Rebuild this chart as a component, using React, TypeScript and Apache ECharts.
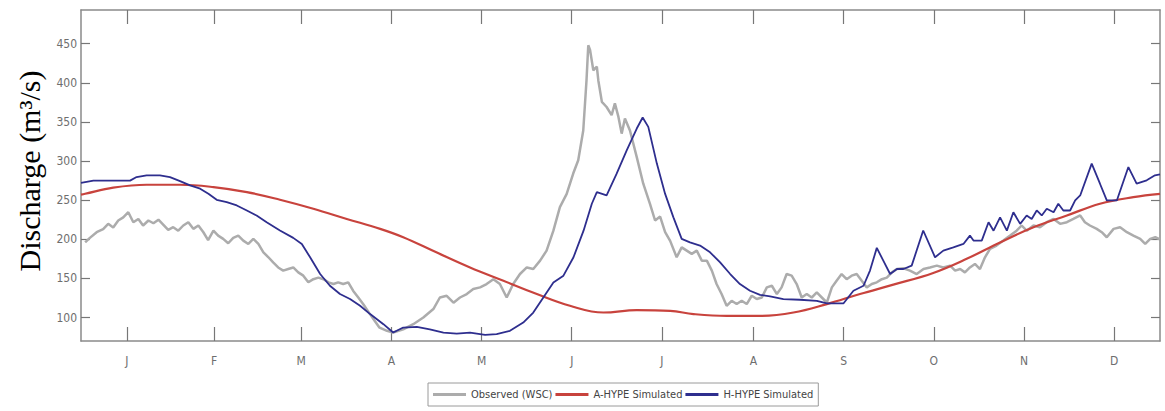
import React, { useEffect, useRef } from "react";
import * as echarts from "echarts";

// ---- Data (day of year, discharge m3/s) ----
const monthMid = [15.5, 45, 74.5, 105, 135.5, 166, 196.5, 227.5, 258, 288.5, 319, 349.5];
const monthLabels = ["J", "F", "M", "A", "M", "J", "J", "A", "S", "O", "N", "D"];
const yTickValues = [100, 150, 200, 250, 300, 350, 400, 450];

const obsDays = [
  1.4, 3, 5.3, 7.5, 9.2, 10.9, 12.6, 14.3, 16, 17.7, 19.4, 21, 22.8, 24.5, 26.2, 27.8, 29.5, 31.2, 32.9, 34.6,
  36.3, 38, 39.7, 41.4, 43, 44.8, 46.4, 48.1, 49.8, 51.5, 53.2, 54.9, 56.6, 58.3, 60, 61.7, 63.4, 65, 66.7, 68.4,
  70.1, 71.8, 73.5, 75.2, 76.9, 78.6, 80.3, 82, 83.7, 85.4, 87, 88.7, 90.4, 92.1, 93.8, 95.5, 97.8, 99.5, 101, 103.5,
  105.6, 109, 112.4, 115.8, 119.2, 121.4, 123.7, 126, 128.2, 130.5, 132.7, 135, 137.2, 139.5, 141.7, 144, 146.2, 148.5, 150.8, 153,
  155.3, 157.5, 159.8, 162, 164.3, 166.5, 168.2, 169.9, 171, 171.6, 172.2, 173.3, 174.5, 175, 176.2, 177.8, 179.5, 180.6, 181.8, 182.9,
  184, 185.7, 188, 190.2, 192.5, 194.2, 195.9, 197.6, 199.3, 201.5, 203.2, 204.9, 206.6, 208.3, 210, 211.7, 213.4, 215, 216.7, 218.4,
  220.1, 221.8, 223.5, 225.2, 226.9, 228.6, 230.3, 232, 233.7, 235.4, 237, 238.7, 240.4, 242.1, 243.8, 245.5, 247.2, 248.9, 250.6, 252.3,
  254, 255.6, 257.3, 259, 260.7, 262.4, 264.1, 265.8, 267.5, 269.2, 270.9, 272.6, 274.3, 276, 278.2, 280.4, 282.7, 285, 287.2, 289.5,
  291.7, 294, 295.7, 297.4, 299, 300.7, 302.4, 304.1, 305.8, 307.5, 309.7, 312, 314.3, 316.5, 318.2, 319.9, 322.2, 324.4, 326.7, 329,
  331.2, 333.5, 335.7, 338, 339.6, 341.3, 343.6, 345.3, 347, 349.3, 351.5, 353.8, 356, 358.3, 360, 361.7, 363.4, 365,
];
const obsValues = [
  196, 201.8, 209, 213, 219.7, 215, 224, 228, 234.6, 221.8, 226, 217.6, 224, 220.5, 225, 218.8, 212, 215.4, 211, 217.6,
  221.8, 213.3, 217.6, 209, 199, 211, 204.7, 200.5, 194.9, 201.8, 204.7, 198.3, 194, 200.5, 194, 183.3, 177, 170.5, 164, 160,
  162, 164, 157.7, 153.5, 145, 149, 151, 149, 145, 142.8, 145, 142.8, 145, 134, 125.6, 117, 104, 95, 87, 83,
  80.8, 85, 91.5, 100, 110.8, 125.6, 127.8, 119, 125.6, 130, 136.4, 138.5, 142.8, 149, 142.8, 125.6, 142.8, 155.6, 164, 162,
  172.7, 185.5, 211, 241, 258, 284, 301, 339, 403, 448, 442, 416, 420.5, 403, 375.6, 369, 358.6, 373.6, 356.4, 335,
  354.4, 339, 305, 271, 245, 224, 229, 209, 198, 177, 189.7, 185.5, 181.3, 185.5, 172.7, 172.7, 160, 142.8, 130, 115,
  121.4, 117.2, 121.4, 117.2, 127.8, 123.6, 125.6, 138.5, 140.6, 130, 138.5, 155.6, 153.5, 142.8, 125.6, 130, 125.6, 132, 125.6, 119.2,
  138.5, 147, 155.6, 149, 153.5, 155.6, 147, 138.5, 142.8, 145, 149, 151, 157.7, 162, 163, 160, 155.6, 162, 164, 166.3,
  164, 166.3, 160, 162, 157.7, 164, 168.5, 162, 177, 187.7, 192, 198.3, 204.7, 211, 217.6, 211, 217.6, 215.4, 221.8, 226,
  219.7, 221.8, 226, 230.4, 221.8, 217.6, 213.3, 209, 202.6, 213.3, 215.4, 209, 204.7, 200.5, 194, 200.5, 202.6, 200,
];

const aDays = [0, 1.4, 10.9, 22.2, 33.5, 44.8, 56.1, 67.3, 78.6, 89.9, 101.2, 109, 120.2, 131.6, 142.9, 154.2, 165.4, 176.7, 188, 199.3, 207.2, 218.4, 229.7, 241, 252.3, 263.5, 274.8, 288.3, 299.6, 310.9, 322.2, 333.5, 344.7, 356, 365];
const aValues = [257, 258.2, 266, 269.7, 269.7, 266.7, 260.3, 250.5, 239, 226, 213.3, 202.6, 183.3, 164, 147, 130, 115, 106.4, 109.5, 108.6, 104.4, 102, 102, 106.4, 117.2, 130, 142, 157, 175, 196, 215.4, 230.4, 245.4, 253.8, 258];

const hDays = [
  0, 4.2, 8.7, 16.6, 18.8, 22.2, 26.7, 30.1, 33.5, 36.9, 40.3, 43.1, 45.9, 49.3, 52.7, 56.1, 59.4, 62.8, 67.3, 71.8,
  74.7, 77.5, 80.9, 84.2, 87.6, 91, 94.4, 97.8, 102.3, 105.6, 109, 113.6, 118, 122.6, 127.1, 131.6, 136.7, 140.6, 145.1, 149.6,
  153, 156.4, 159.8, 163.2, 166.6, 170, 172.8, 174.5, 177.8, 181.2, 184.6, 188, 190, 191.9, 194.8, 197.6, 200.4, 203.2, 206, 209.4,
  212.8, 216.2, 219.6, 222.9, 226.3, 229.7, 233.1, 237.6, 243.2, 248.9, 252.3, 257.9, 261.3, 264.7, 266.9, 269.2, 271.4, 273.7, 276, 278.2,
  281, 284.9, 288.9, 291.7, 295.1, 298.5, 300.7, 301.9, 304.7, 307, 308.7, 310.9, 313.2, 315.4, 317.7, 319.9, 321.6, 323.3, 325, 326.7,
  329, 330.6, 332.3, 334.6, 336.3, 338, 341.9, 344.7, 347, 350.4, 354.3, 357.1, 360.5, 363.3, 365,
];
const hValues = [
  272, 275, 275, 275, 279.5, 281.7, 281.7, 279.5, 274.4, 268.8, 264.6, 258.2, 250.5, 247.4, 243.2, 236.8, 230.4, 221.8, 211.2, 201.8,
  194, 177, 155.6, 140.6, 130, 123.6, 115, 104.4, 91.5, 80.8, 87.2, 88, 85, 80.8, 79.5, 80.8, 77.8, 78.7, 83, 93.6,
  106.4, 125.6, 144.9, 153.5, 177, 211, 245.4, 260.3, 256, 283.8, 313.7, 341.5, 355.6, 343.6, 296.7, 258, 228, 200.5, 196, 192,
  183.3, 170.5, 155.6, 142.8, 134.2, 129, 127, 123.6, 122.7, 121.4, 118, 118, 134.2, 140.6, 160, 189, 172.7, 155.6, 162, 162,
  166.3, 211.2, 177, 185.5, 189.7, 194, 204.7, 198.3, 198.3, 221.8, 211, 228, 211, 234.6, 219.7, 230.4, 226, 236.8, 230.4, 239,
  234.6, 245.4, 236.8, 236.8, 249.6, 256, 296.7, 271, 249.6, 249.6, 292.3, 271, 275.3, 281.7, 283,
];

const seriesNames = ["Observed (WSC)", "A-HYPE Simulated", "H-HYPE Simulated"];
const seriesColors = ["#acacac", "#c8433d", "#2e2e8e"];

const pairs = (xs: number[], ys: number[]) => xs.map((x, i) => [x, ys[i]]);

const tickFont = "'Liberation Sans Narrow', 'DejaVu Sans Condensed', 'Liberation Sans', sans-serif";
const axisColor = "#8a8a8a";

export default function App() {
  const ref = useRef<HTMLDivElement>(null);
  useEffect(() => {
    if (!ref.current) return;
    const chart = echarts.init(ref.current, undefined, { renderer: "svg" });
    const xCommon = {
      type: "value",
      min: 0,
      max: 365,
      splitLine: { show: false },
      axisLine: { show: true, onZero: false, lineStyle: { color: axisColor, width: 1.5 } },
      axisTick: { show: true, inside: true, length: 14, customValues: monthMid, lineStyle: { color: "#777", width: 1.2 } },
    };
    const yCommon = {
      type: "value",
      min: 70,
      max: 493,
      splitLine: { show: false },
      axisLine: { show: true, onZero: false, lineStyle: { color: axisColor, width: 1.5 } },
      axisTick: { show: true, inside: true, length: 9, customValues: yTickValues, lineStyle: { color: "#777", width: 1.2 } },
    };
    chart.setOption({
      animation: false,
      backgroundColor: "#ffffff",
      grid: { left: 81, right: 5, top: 10, bottom: 70, containLabel: false },
      xAxis: [
        {
          ...xCommon,
          position: "bottom",
          axisLabel: {
            show: true,
            customValues: monthMid,
            margin: 14,
            color: "#6e6e6e",
            fontSize: 12,
            fontFamily: tickFont,
            formatter: (v: number) => monthLabels[monthMid.indexOf(v)] ?? "",
          },
        },
        { ...xCommon, position: "top", axisLabel: { show: false } },
      ],
      yAxis: [
        {
          ...yCommon,
          position: "left",
          axisLabel: {
            show: true,
            customValues: yTickValues,
            margin: 4,
            color: "#6e6e6e",
            fontSize: 12,
            fontFamily: tickFont,
          },
        },
        { ...yCommon, position: "right", axisLabel: { show: false } },
      ],
      legend: {
        left: 428,
        top: 383,
        orient: "horizontal",
        padding: [6, 5],
        itemGap: 3,
        itemWidth: 33,
        itemHeight: 3,
        icon: "rect",
        borderColor: "#9a9a9a",
        borderWidth: 1,
        data: seriesNames,
        textStyle: { fontSize: 11, fontFamily: tickFont, color: "#444" },
      },
      graphic: [
        {
          type: "text",
          x: 29,
          y: 171,
          rotation: Math.PI / 2,
          style: {
            text: "Discharge (m³/s)",
            font: "30px 'Liberation Serif', 'Times New Roman', serif",
            fill: "#000",
            textAlign: "center",
            textVerticalAlign: "middle",
          },
        },
      ],
      series: [
        {
          name: seriesNames[0],
          type: "line",
          data: pairs(obsDays, obsValues),
          showSymbol: false,
          color: seriesColors[0],
          lineStyle: { color: seriesColors[0], width: 2.5 },
          z: 1,
        },
        {
          name: seriesNames[1],
          type: "line",
          data: pairs(aDays, aValues),
          smooth: 0.4,
          showSymbol: false,
          color: seriesColors[1],
          lineStyle: { color: seriesColors[1], width: 2.2 },
          z: 2,
        },
        {
          name: seriesNames[2],
          type: "line",
          data: pairs(hDays, hValues),
          showSymbol: false,
          color: seriesColors[2],
          lineStyle: { color: seriesColors[2], width: 1.8 },
          z: 3,
        },
      ],
    });
    return () => chart.dispose();
  }, []);
  return (
    <div
      ref={ref}
      style={{ position: "fixed", left: 0, top: 0, width: 1165, height: 411, background: "#fff" }}
    />
  );
}
